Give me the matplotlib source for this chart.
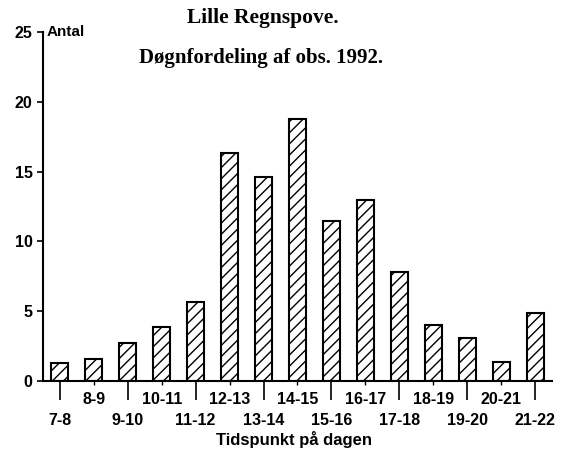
import matplotlib.pyplot as plt
import numpy as np

plt.rcParams['font.family'] = ['Liberation Sans', 'DejaVu Sans']
plt.rcParams['hatch.linewidth'] = 1.0

# timeintervaller og antal observationer
intervaller = ['7-8', '8-9', '9-10', '10-11', '11-12', '12-13', '13-14', '14-15',
               '15-16', '16-17', '17-18', '18-19', '19-20', '20-21', '21-22']
antal = [1.3, 1.6, 2.7, 3.9, 5.7, 16.3, 14.6, 18.8, 11.5, 13.0, 7.8, 4.0, 3.1, 1.4, 4.9]

fig = plt.figure(figsize=(5.65, 4.5), dpi=100)
ax = fig.add_axes([0.076, 0.153, 0.901, 0.776])

x = np.arange(len(intervaller))
ax.bar(x, antal, width=0.5, color='white', edgecolor='black', linewidth=1.5, hatch='///')

ax.set_xlim(-0.5, 14.5)
ax.set_ylim(0, 25)
ax.set_yticks([0, 5, 10, 15, 20, 25])
ax.tick_params(axis='y', labelsize=11.5, width=1.2, length=4)
for t in ax.get_yticklabels():
    t.set_fontweight('bold')

# labels i to rækker
ax.set_xticks(x[::2])
ax.set_xticklabels(intervaller[::2], fontsize=11.5, fontweight='bold')
ax.set_xticks(x[1::2], minor=True)
ax.set_xticklabels(intervaller[1::2], minor=True, fontsize=11.5, fontweight='bold')
ax.tick_params(axis='x', which='major', length=14, width=1.2, pad=9)
ax.tick_params(axis='x', which='minor', length=3, width=1.0, pad=5)

for s in ['top', 'right']:
    ax.spines[s].set_visible(False)
ax.spines['left'].set_linewidth(1.5)
ax.spines['bottom'].set_linewidth(1.5)

ax.text(0.008, 1.0, 'Antal', transform=ax.transAxes, fontsize=11, fontweight='bold',
        ha='left', va='center')
fig.text(0.465, 0.96, 'Lille Regnspove.', family='Liberation Serif', fontweight='bold',
         fontsize=15.5, ha='center', va='center')
fig.text(0.462, 0.871, 'Døgnfordeling af obs. 1992.', family='Liberation Serif',
         fontweight='bold', fontsize=15, ha='center', va='center')
fig.text(0.52, 0.024, 'Tidspunkt på dagen', fontsize=12, fontweight='bold',
         ha='center', va='center')

fig.savefig('out.png', dpi=100)
